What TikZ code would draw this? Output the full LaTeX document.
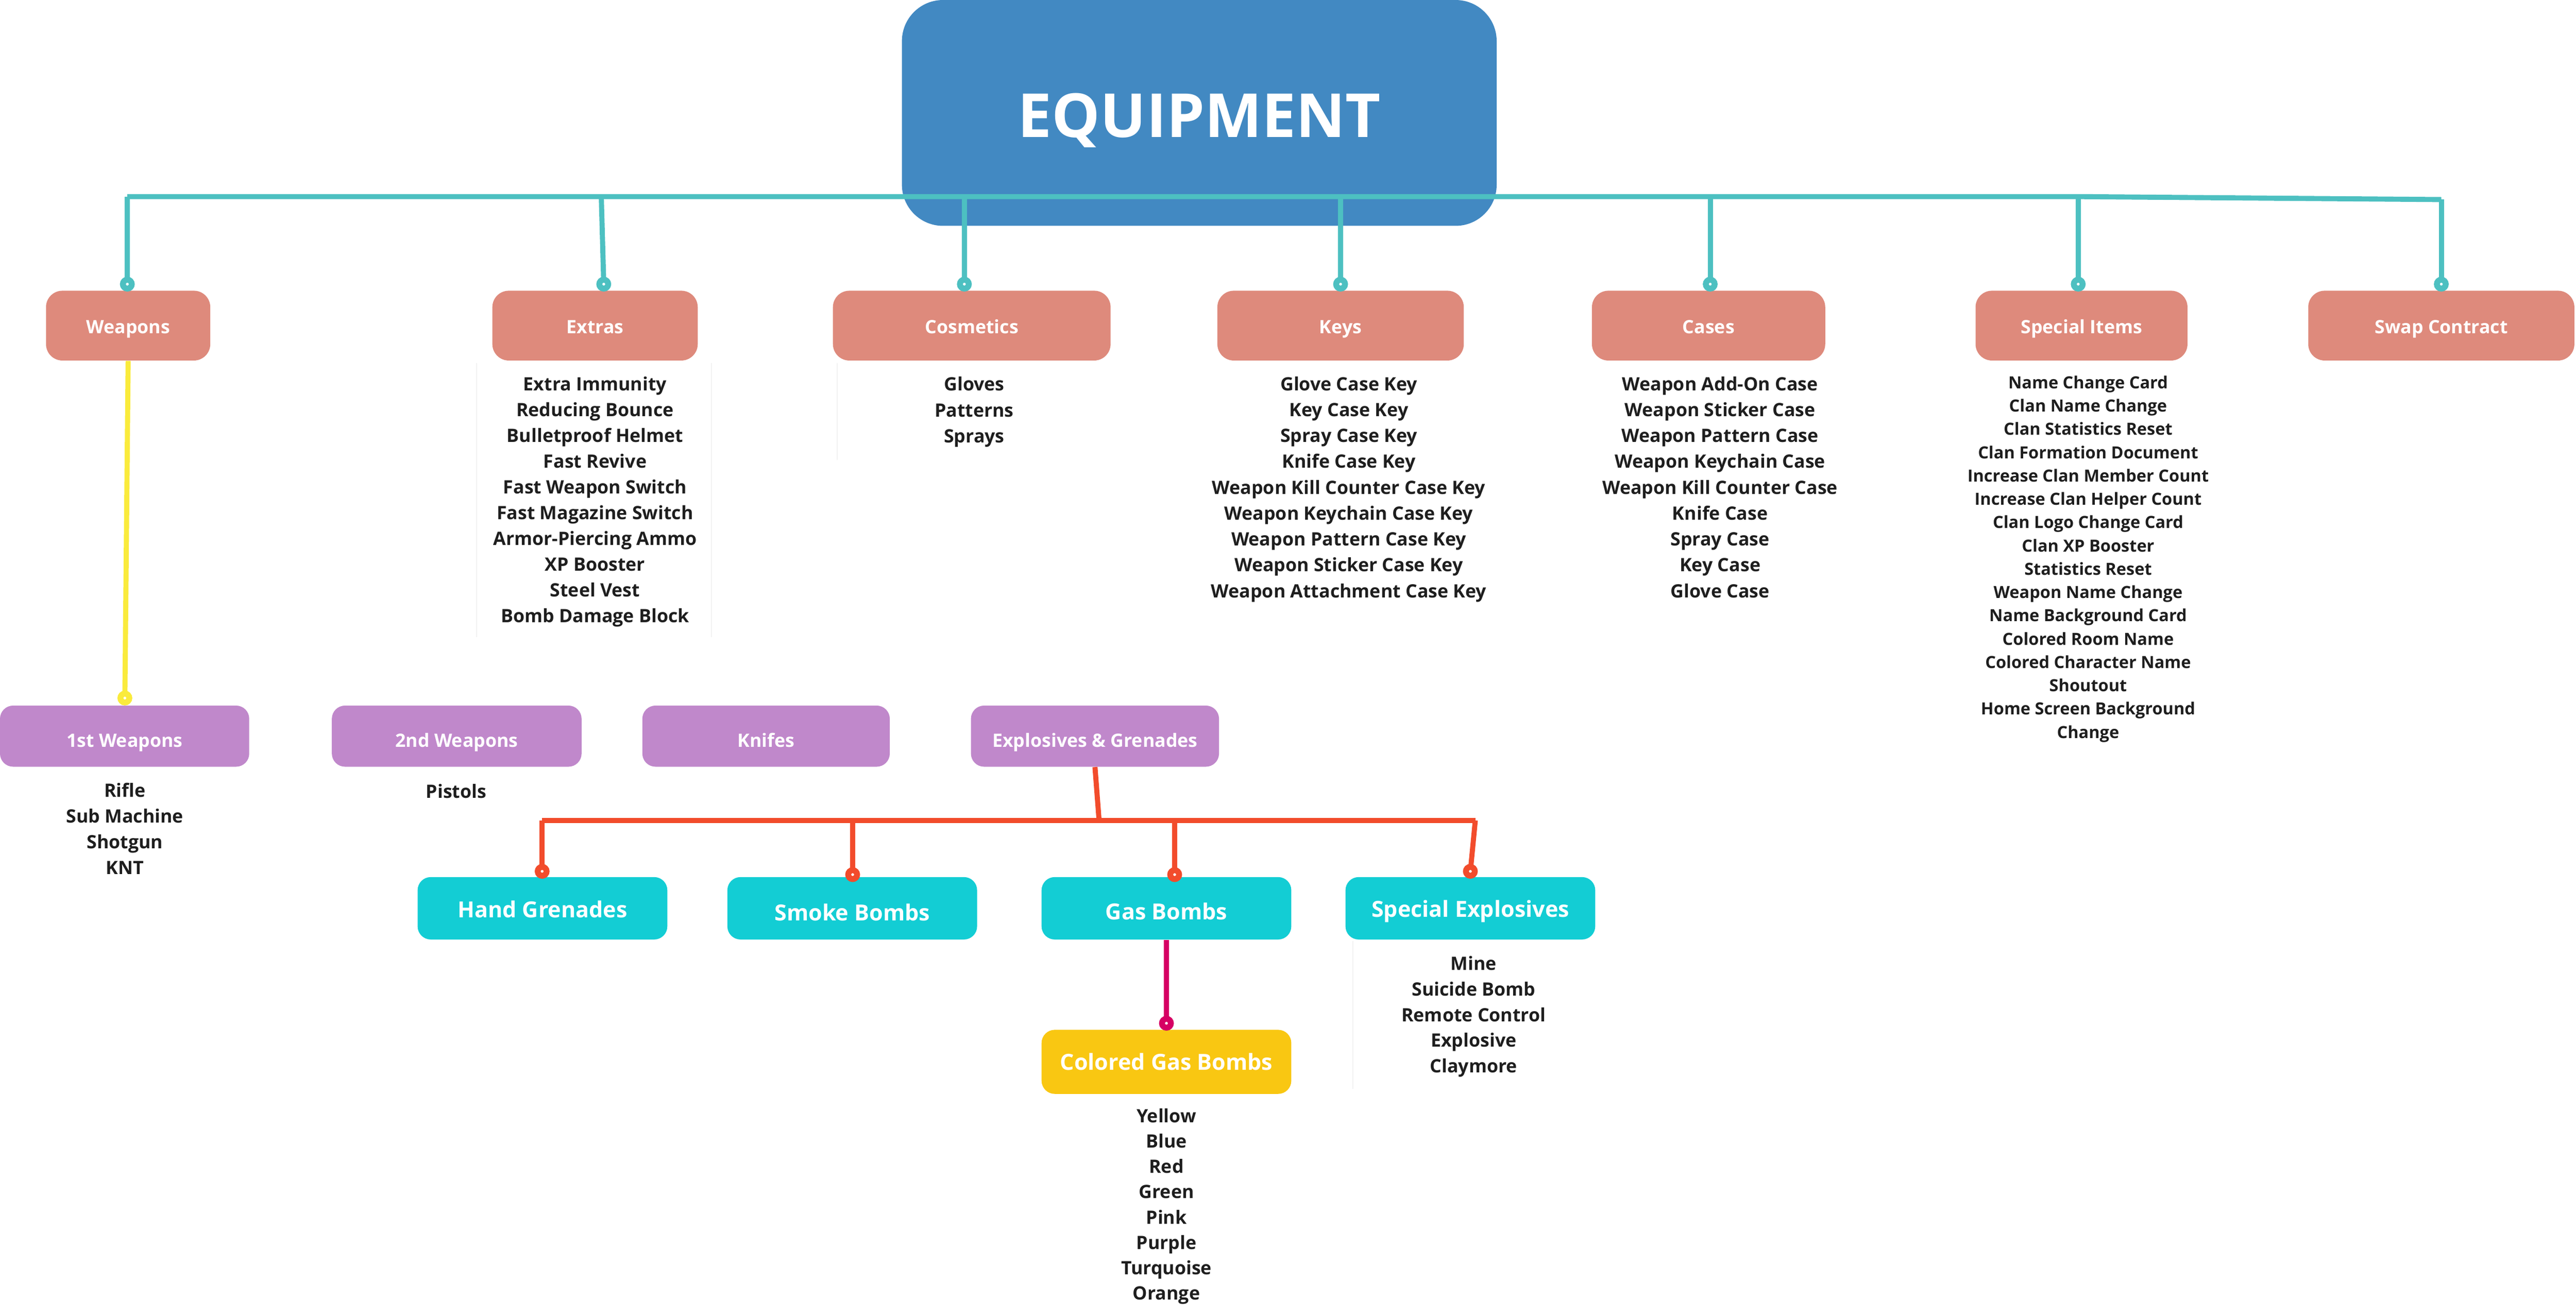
\documentclass[tikz,border=0pt]{standalone}
\usepackage{fontspec}
\setmainfont{Open Sans}
\definecolor{cblue}{HTML}{4289C2}
\definecolor{cteal}{HTML}{4DC0C1}
\definecolor{cpink}{HTML}{DE8A7C}
\definecolor{cpurple}{HTML}{C088CB}
\definecolor{ccyan}{HTML}{13CDD4}
\definecolor{cgold}{HTML}{F9C712}
\definecolor{cred}{HTML}{F24C2C}
\definecolor{cmag}{HTML}{D60064}
\definecolor{cyel}{HTML}{FAEB3C}
\definecolor{ctext}{HTML}{1E1E1E}
\definecolor{cfaint}{HTML}{F2F2F2}
\begin{document}
\begin{tikzpicture}[x=1pt,y=-1pt,
  box/.style={inner sep=0pt, text=white, text depth=0pt,
    font=\bfseries\fontsize{11.2}{13}\selectfont},
  pinkbox/.style={box, fill=cpink, rounded corners=10pt, minimum width=#1,
    minimum height=42.5pt, text height=9.5pt},
  purplebox/.style={box, fill=cpurple, rounded corners=8pt, minimum width=#1,
    minimum height=37.2pt, text height=13.2pt},
  cyanbox/.style={box, fill=ccyan, rounded corners=8pt, minimum width=152pt,
    minimum height=38pt, font=\bfseries\fontsize{13.5}{15}\selectfont},
  goldbox/.style={box, fill=cgold, rounded corners=8pt, minimum width=152pt,
    minimum height=39pt, text height=10pt, font=\bfseries\fontsize{13.5}{15}\selectfont},
  item/.style={inner sep=0pt, anchor=base, text=ctext,
    font=\bfseries\fontsize{11.2}{13}\selectfont},
  smallitem/.style={item, font=\bfseries\fontsize{10.2}{12}\selectfont},
  link/.style={line width=3.1pt},
  ring/.style={circle, inner sep=0pt, minimum size=5.4pt, line width=3.6pt,
    fill=white, draw=#1},
  faint/.style={draw=cfaint, line width=0.7pt}
]
\useasboundingbox (0,0) rectangle (1568,801.1);

% faint text-frame edges
\draw[faint] (290,221) -- (290,388);
\draw[faint] (433,221) -- (433,388);
\draw[faint] (509.6,221) -- (509.6,280);
\draw[faint] (823.6,573) -- (823.6,663);

% root
\node[box, fill=cblue, rounded corners=25pt, minimum width=362pt,
  minimum height=137.5pt, text height=29.5pt,
  font=\bfseries\fontsize{37}{40}\selectfont] (equip) at (730,68.75) {EQUIPMENT};

% level 1 boxes
\node[pinkbox=100pt]  (weap) at (78,198.25)   {Weapons};
\node[pinkbox=125pt]  (extr) at (362.2,198.25) {Extras};
\node[pinkbox=169pt]  (cosm) at (591.5,198.25) {Cosmetics};
\node[pinkbox=150pt]  (keys) at (816,198.25)  {Keys};
\node[pinkbox=142pt]  (case) at (1040,198.25) {Cases};
\node[pinkbox=129pt]  (spec) at (1267,198.25) {Special Items};
\node[pinkbox=162pt]  (swap) at (1486,198.25) {Swap Contract};

% teal bar and drops
\coordinate (bW)  at (77.5,119.7);
\coordinate (bX)  at (366,119.7);
\coordinate (bC)  at (587,119.7);
\coordinate (bK)  at (816,119.7);
\coordinate (bCa) at (1041,119.7);
\coordinate (bS)  at (1265,119.7);
\coordinate (bSw) at (1486,121.5);
\coordinate (rW)  at (77.5,173);
\coordinate (rX)  at (367.5,173);
\coordinate (rC)  at (587,173);
\coordinate (rK)  at (816,173);
\coordinate (rCa) at (1041,173);
\coordinate (rS)  at (1265,173);
\coordinate (rSw) at (1486,173);
\draw[link, cteal] (bW) -- (bS) -- (bSw);
\foreach \b/\r in {bW/rW,bX/rX,bC/rC,bK/rK,bCa/rCa,bS/rS,bSw/rSw}
  \draw[link, cteal] (\b) -- (\r);
\foreach \r in {rW,rX,rC,rK,rCa,rS,rSw}
  \node[ring=cteal] (\r n) at (\r) {};

% level 2 (weapons)
\node[purplebox=151.7pt] (first)  at (75.85,448.2) {1st Weapons};
\node[purplebox=152pt]   (second) at (278,448.2)   {2nd Weapons};
\node[purplebox=150.6pt] (knife)  at (466.3,448.2) {Knifes};
\node[purplebox=151pt]   (expl)   at (666.5,448.2) {Explosives \& Grenades};

\coordinate (rF) at (76,425);
\draw[link, cyel] (weap.south) -- (rF);
\node[ring=cyel] (rFn) at (rF) {};

% level 3 (explosives)
\node[cyanbox, text height=11.2pt] (hand)  at (330.2,553)  {Hand Grenades};
\node[cyanbox, text height=15pt]   (smoke) at (518.75,553) {Smoke Bombs};
\node[cyanbox, text height=14pt]   (gas)   at (710,553)    {Gas Bombs};
\node[cyanbox, text height=10.6pt] (spex)  at (895,553)    {Special Explosives};

\coordinate (eJ)  at (669,499.5);
\coordinate (eL)  at (330,499.5);
\coordinate (eS)  at (519,499.5);
\coordinate (eG)  at (715,499.5);
\coordinate (eR)  at (898,499.5);
\coordinate (rH)  at (330,530.5);
\coordinate (rSm) at (519,532.5);
\coordinate (rG)  at (715,532.5);
\coordinate (rE)  at (895,530.5);
\draw[link, cred] (expl.south) -- (eJ);
\draw[link, cred] (eL) -- (eR);
\foreach \b/\r in {eL/rH,eS/rSm,eG/rG,eR/rE}
  \draw[link, cred] (\b) -- (\r);
\foreach \r in {rH,rSm,rG,rE}
  \node[ring=cred] (\r n) at (\r) {};

% level 4
\node[goldbox] (colgas) at (710,646.5) {Colored Gas Bombs};
\coordinate (rCg) at (710,623);
\draw[link, cmag] (gas.south) -- (rCg);
\node[ring=cmag] (rCgn) at (rCg) {};

% item lists
\foreach \t [count=\i from 0] in {Extra Immunity,Reducing Bounce,Bulletproof Helmet,Fast Revive,Fast Weapon Switch,Fast Magazine Switch,Armor-Piercing Ammo,XP Booster,Steel Vest,Bomb Damage Block}
  \node[item] (ex\i) at (362.2,{238+\i*15.67}) {\t};

\foreach \t [count=\i from 0] in {Gloves,Patterns,Sprays}
  \node[item] (co\i) at (593,{238+\i*15.7}) {\t};

\foreach \t [count=\i from 0] in {Glove Case Key,Key Case Key,Spray Case Key,Knife Case Key,Weapon Kill Counter Case Key,Weapon Keychain Case Key,Weapon Pattern Case Key,Weapon Sticker Case Key,Weapon Attachment Case Key}
  \node[item] (ke\i) at (821,{237.8+\i*15.75}) {\t};

\foreach \t [count=\i from 0] in {Weapon Add-On Case,Weapon Sticker Case,Weapon Pattern Case,Weapon Keychain Case,Weapon Kill Counter Case,Knife Case,Spray Case,Key Case,Glove Case}
  \node[item] (ca\i) at (1047,{237.8+\i*15.75}) {\t};

\foreach \t [count=\i from 0] in {Name Change Card,Clan Name Change,Clan Statistics Reset,Clan Formation Document,Increase Clan Member Count,Increase Clan Helper Count,Clan Logo Change Card,Clan XP Booster,Statistics Reset,Weapon Name Change,Name Background Card,Colored Room Name,Colored Character Name,Shoutout,Home Screen Background,Change}
  \node[smallitem] (sp\i) at (1271,{236.6+\i*14.19}) {\t};

\foreach \t [count=\i from 0] in {Rifle,Sub Machine,Shotgun,KNT}
  \node[item] (fw\i) at (76,{485.2+\i*15.7}) {\t};

\node[item] (pist) at (277.7,486) {Pistols};

\foreach \t [count=\i from 0] in {Mine,Suicide Bomb,Remote Control,Explosive,Claymore}
  \node[item] (se\i) at (897,{590.7+\i*15.6}) {\t};

\foreach \t [count=\i from 0] in {Yellow,Blue,Red,Green,Pink,Purple,Turquoise,Orange}
  \node[item] (cg\i) at (710,{683.4+\i*15.44}) {\t};

\end{tikzpicture}
\end{document}
